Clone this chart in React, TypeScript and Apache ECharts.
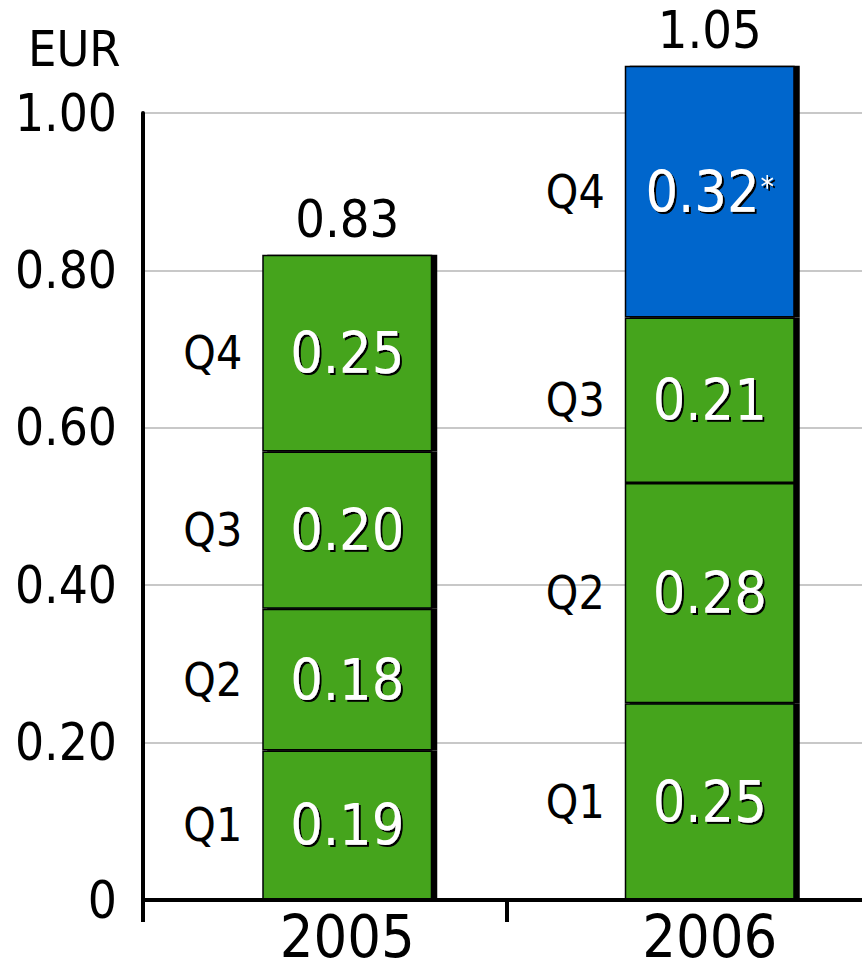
import React, { useEffect, useRef } from "react";
import * as echarts from "echarts";

const years = ["2005", "2006"];
const quarters = ["Q1", "Q2", "Q3", "Q4"];
const q1 = [0.19, 0.25];
const q2 = [0.18, 0.28];
const q3 = [0.2, 0.21];
const q4 = [0.25, 0.32];
const q4Notes = ["", "*"];
const totals = [0.83, 1.05];
const yMin = 0;
const yMax = 1;
const yStep = 0.2;
const unit = "EUR";

const GREEN = "#45a41f";
const BLUE = "#0366cc";
const FONT = "DejaVu Sans Condensed";

export default function App() {
  const ref = useRef<HTMLDivElement>(null);

  useEffect(() => {
    if (!ref.current) return;
    const chart = echarts.init(ref.current, null, { renderer: "svg" });
    const quarterData = [q1, q2, q3, q4];
    const BW = 170;
    const shadow = {
      textShadowColor: "#000",
      textShadowOffsetX: 2,
      textShadowOffsetY: 2,
      textShadowBlur: 1,
    };

    const valueSeries = quarterData.map((vals, qi) => ({
      name: quarters[qi],
      type: "bar",
      stack: "total",
      xAxisIndex: 1,
      yAxisIndex: 1,
      barWidth: BW,
      clip: false,
      data: vals.map((v, i) => {
        const note = qi === 3 ? q4Notes[i] : "";
        return {
          value: v,
          itemStyle: { color: note ? BLUE : GREEN },
          note,
        };
      }),
      itemStyle: {
        borderColor: "#000",
        borderWidth: 1.5,
        shadowColor: "#000",
        shadowOffsetX: 5,
        shadowOffsetY: 0,
        shadowBlur: 0,
      },
      label: {
        show: true,
        position: "inside",
        formatter: (p: any) => {
          const note = p.data.note;
          return `{v|${Number(p.value).toFixed(2)}}` + (note ? `{s|${note}}` : "");
        },
        rich: {
          v: {
            fontSize: 57,
            fontFamily: FONT,
            color: "#fff",
            ...shadow,
          },
          s: {
            fontSize: 30,
            fontFamily: FONT,
            color: "#fff",
            verticalAlign: "top",
            padding: [8, 0, 0, 1],
            ...shadow,
          },
        },
      },
    }));

    const totalSeries = {
      name: "Total",
      type: "bar",
      stack: "total",
      xAxisIndex: 1,
      yAxisIndex: 1,
      barWidth: BW,
      clip: false,
      silent: true,
      data: totals.map(() => 0),
      itemStyle: { color: "transparent" },
      label: {
        show: true,
        position: "top",
        distance: 16,
        fontSize: 52,
        lineHeight: 40,
        fontFamily: FONT,
        color: "#000",
        formatter: (p: any) => totals[p.dataIndex].toFixed(2),
      },
    };

    const quarterLabelSeries = quarterData.map((vals, qi) => ({
      name: quarters[qi] + " label",
      type: "bar",
      stack: "q",
      xAxisIndex: 2,
      yAxisIndex: 1,
      barWidth: BW,
      clip: false,
      silent: true,
      data: vals,
      itemStyle: { color: "transparent" },
      label: {
        show: true,
        position: "left",
        distance: 20,
        fontSize: 46,
        fontFamily: FONT,
        color: "#000",
        formatter: () => quarters[qi],
      },
    }));

    chart.setOption({
      animation: false,
      textStyle: { fontFamily: FONT },
      grid: [
        { left: 143, top: 113, bottom: 72, width: 728, outerBoundsMode: "none", containLabel: false },
        { left: 166, top: 113, bottom: 72, width: 725, outerBoundsMode: "none", containLabel: false },
      ],
      graphic: [
        {
          type: "text",
          left: 28,
          top: 24,
          style: { text: unit, fontSize: 50, fontFamily: FONT, fill: "#000" },
        },
      ],
      xAxis: [
        {
          gridIndex: 0,
          type: "category",
          data: years,
          boundaryGap: true,
          z: 5,
          axisLine: { lineStyle: { color: "#000", width: 4 } },
          axisTick: { show: true, length: 22, lineStyle: { color: "#000", width: 4 } },
          axisLabel: { show: false },
        },
        {
          gridIndex: 1,
          type: "category",
          data: years,
          axisLine: { show: false },
          axisTick: { show: false },
          axisLabel: {
            fontSize: 59,
            fontFamily: FONT,
            color: "#000",
            margin: 12,
            lineHeight: 48,
          },
        },
        { gridIndex: 1, type: "category", data: years, show: false },
      ],
      yAxis: [
        {
          gridIndex: 0,
          type: "value",
          min: yMin,
          max: yMax,
          interval: yStep,
          axisLine: { show: true, lineStyle: { color: "#000", width: 4 } },
          axisTick: { show: false },
          splitLine: { lineStyle: { color: "#c8c8c8", width: 2 } },
          axisLabel: {
            fontSize: 51,
            fontFamily: FONT,
            color: "#000",
            margin: 26,
            formatter: (v: number) => (v === 0 ? "0" : v.toFixed(2)),
          },
        },
        { gridIndex: 1, type: "value", min: yMin, max: yMax, show: false },
      ],
      series: [...valueSeries, totalSeries, ...quarterLabelSeries],
    });
    return () => chart.dispose();
  }, []);

  return (
    <div
      ref={ref}
      style={{ position: "absolute", left: 0, top: 0, width: 862, height: 972, background: "#fff" }}
    />
  );
}
